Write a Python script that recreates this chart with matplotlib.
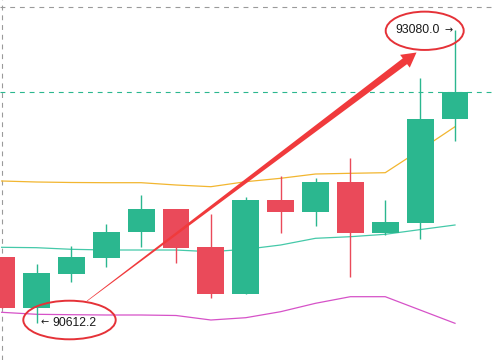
import matplotlib
matplotlib.use('Agg')
import matplotlib.pyplot as plt
import numpy as np
from matplotlib.patches import Ellipse, Polygon

plt.rcParams['lines.scale_dashes'] = False

# ---- data ----
opens  = [91168.7, 90738.7, 91025.4, 91161.9, 91374.4, 91570.9, 91253.0,
          90856.7, 91646.7, 91548.1, 91801.0, 91371.0, 91455.3, 92327.0]
closes = [90738.7, 91031.3, 91166.2, 91374.4, 91568.3, 91244.6, 90856.7,
          91646.7, 91548.1, 91796.0, 91371.0, 91461.2, 92329.6, 92557.3]
highs  = [91168.7, 91107.1, 91261.4, 91444.4, 91688.9, 91572.0, 91526.2,
          91674.6, 91851.6, 91829.7, 91998.3, 91646.7, 92677.8, 93080.0]
lows   = [90738.7, 90612.2, 90955.4, 91081.9, 91253.0, 91118.1, 90823.0,
          90856.7, 91371.0, 91430.0, 91000.1, 91351.6, 91315.4, 92146.7]
upper  = [91806.9, 91798.5, 91794.3, 91792.6, 91792.6, 91773.2, 91758.9,
          91801.0, 91829.7, 91865.9, 91871.8, 91876.9, 92068.3, 92264.7]
middle = [91248.0, 91244.6, 91231.1, 91225.2, 91225.2, 91225.0, 91210.8,
          91231.1, 91267.3, 91323.8, 91337.3, 91357.5, 91397.2, 91436.0]
lower  = [90700.0, 90683.1, 90679.7, 90677.2, 90677.2, 90673.0, 90635.0,
          90654.4, 90705.0, 90775.8, 90831.5, 90831.5, 90719.3, 90607.2]
grid_level = 93274.0
high_label = "93080.0"
low_label = "90612.2"
high_idx, low_idx = 13, 1

GREEN = '#2bb78f'
RED = '#ea4a5a'
ANN = '#e53238'

W, H = 493, 360
fig = plt.figure(figsize=(W / 100, H / 100), dpi=100)
ax = fig.add_axes([0, 0, 1, 1])
ax.set_xlim(-0.0466, 14.0896)
ax.set_ylim(90297.8, 93332.9)
ax.axis('off')

x = np.arange(len(opens))
o = np.array(opens); c = np.array(closes)
colors = [GREEN if cc >= oo else RED for oo, cc in zip(o, c)]

# grid-ish dashed lines
ax.axhline(grid_level, color='#9a9a9a', lw=0.8, ls=(0, (3.5, 3.5)), zorder=1)
ax.axvline(0, color='#9a9a9a', lw=0.8, ls=(0, (3.5, 3.5)), zorder=1)
ax.axhline(closes[-1], color=GREEN, lw=0.8, ls=(0, (3.5, 3.5)), zorder=1)

# bands
ax.plot(x, upper, color='#f2b630', lw=0.9, zorder=2)
ax.plot(x, middle, color='#45c9a9', lw=0.9, zorder=2)
ax.plot(x, lower, color='#d652c8', lw=0.9, zorder=2)

# candles
ax.vlines(x, lows, highs, colors=colors, lw=1.0, zorder=3)
ax.bar(x, np.abs(c - o), bottom=np.minimum(o, c), width=0.77,
       color=colors, zorder=4, linewidth=0)

# ---- annotations ----
def disp(px, py):
    return ax.transData.transform((px, py))

to_axes = ax.transAxes.inverted()

hp = disp(high_idx, highs[high_idx])
lp = disp(low_idx, lows[low_idx])

TXT = '#1a1a1a'
# high label
ax.annotate(high_label, xy=(high_idx, highs[high_idx]), xytext=(-15, 0),
            textcoords='offset pixels', ha='right', va='center',
            fontsize=8.8, family=['Liberation Sans', 'DejaVu Sans'], color=TXT, zorder=6)
ax.annotate('→', xy=(high_idx, highs[high_idx]), xytext=(-2.5, 0),
            textcoords='offset pixels', ha='right', va='center',
            fontsize=7, family=['DejaVu Sans'], color=TXT, zorder=6)
# low label
ax.annotate('←', xy=(low_idx, lows[low_idx]), xytext=(4, 0),
            textcoords='offset pixels', ha='left', va='center',
            fontsize=7, family=['DejaVu Sans'], color=TXT, zorder=6)
ax.annotate(low_label, xy=(low_idx, lows[low_idx]), xytext=(15.5, 0),
            textcoords='offset pixels', ha='left', va='center',
            fontsize=8.8, family=['Liberation Sans', 'DejaVu Sans'], color=TXT, zorder=6)

# ellipses (centres relative to the labelled extremes, in pixels)
hc = np.array([hp[0] - 30.3, hp[1] - 0.8])
lc = np.array([lp[0] + 33.0, lp[1] + 2.7])
for cen, w, h in [(hc, 78, 38.3), (lc, 92.4, 38.6)]:
    ca = to_axes.transform(cen)
    e = Ellipse(ca, w / W, h / H, transform=ax.transAxes, fill=False,
                edgecolor=ANN, lw=1.4, zorder=7)
    ax.add_patch(e)

# tapered arrow from low ellipse to high ellipse
S = lc + np.array([17.5, 19.0])
T = hc + np.array([-8.2, -21.7])
d = T - S
u = d / np.linalg.norm(d)
n = np.array([-u[1], u[0]])
head_len, head_hw, shaft_hw, tail_hw = 14.5, 8.0, 3.6, 0.3
B = T - u * head_len
pts = np.array([S + n * tail_hw, B + n * shaft_hw, B + n * head_hw, T,
                B - n * head_hw, B - n * shaft_hw, S - n * tail_hw])
poly = Polygon(to_axes.transform(pts), closed=True, transform=ax.transAxes,
               facecolor='#f03a3c', edgecolor='none', zorder=8)
ax.add_patch(poly)

fig.savefig('out.png', dpi=100)
